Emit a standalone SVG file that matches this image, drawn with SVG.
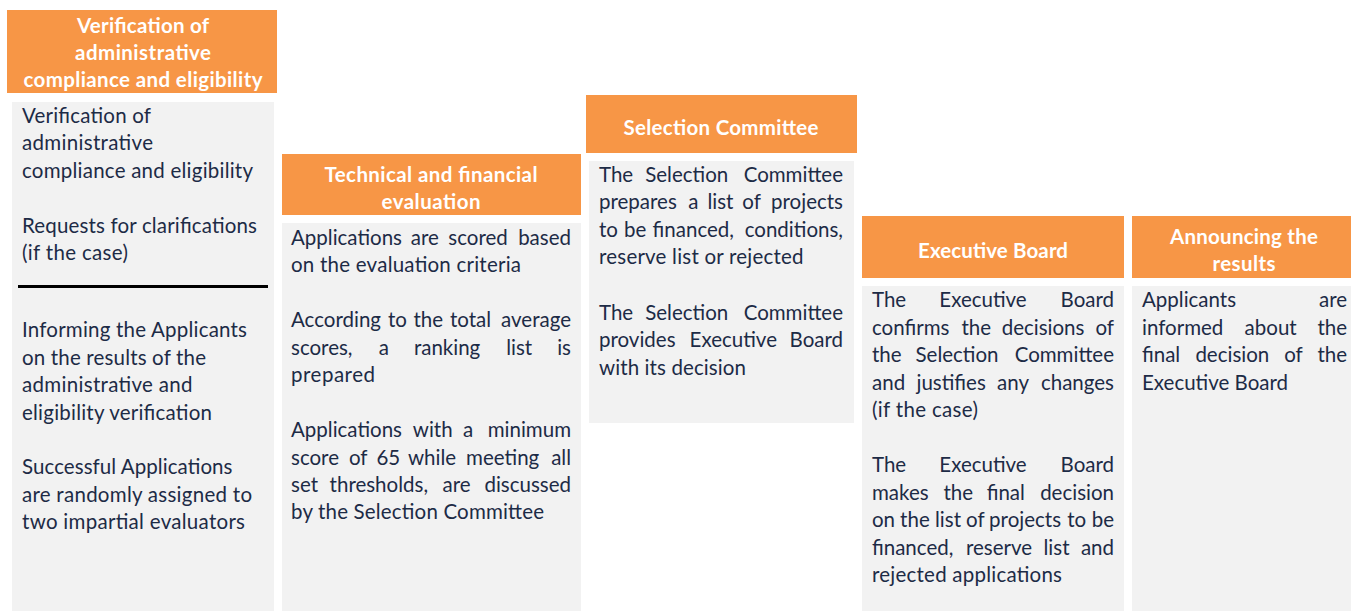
<svg xmlns="http://www.w3.org/2000/svg" width="1351" height="611" viewBox="0 0 1351 611">
<style>
.hd{fill:#F79646}
.bx{fill:#F2F2F2}
.h{font-family:Lato,"Open Sans",sans-serif;font-weight:bold;font-size:20.5px;fill:#FFFFFF;text-anchor:middle}
.t{font-family:Lato,"Open Sans",sans-serif;font-size:20.5px;fill:#1d2b46}
.e{text-anchor:end}
</style>
<rect width="1351" height="611" fill="#FFFFFF"/>
<g id="connectors"></g>

<g id="node-verification">
<rect class="hd" x="7" y="10" width="270" height="83"/>
<text class="h" x="143" y="33" textLength="132">Verification of</text>
<text class="h" x="143" y="60" textLength="136">administrative</text>
<text class="h" x="143" y="87" textLength="239">compliance and eligibility</text>
<rect class="bx" x="12" y="102" width="262" height="509"/>
<text class="t" x="22" y="123" textLength="129">Verification of</text>
<text class="t" x="22" y="150" textLength="131">administrative</text>
<text class="t" x="22" y="178" textLength="231">compliance and eligibility</text>
<text class="t" x="22" y="233" textLength="235">Requests for clarifications</text>
<text class="t" x="22" y="260" textLength="106">(if the case)</text>
<line x1="18" y1="286.5" x2="268" y2="286.5" stroke="#000000" stroke-width="3"/>
<text class="t" x="22" y="337" textLength="225">Informing the Applicants</text>
<text class="t" x="22" y="365" textLength="184">on the results of the</text>
<text class="t" x="22" y="392" textLength="170.5">administrative and</text>
<text class="t" x="22" y="420" textLength="190">eligibility verification</text>
<text class="t" x="22" y="474" textLength="210.5">Successful Applications</text>
<text class="t" x="22" y="502" textLength="230">are randomly assigned to</text>
<text class="t" x="22" y="529" textLength="223">two impartial evaluators</text>
</g>

<g id="node-technical">
<rect class="hd" x="282" y="154" width="299" height="61"/>
<text class="h" x="431" y="182" textLength="213">Technical and financial</text>
<text class="h" x="431" y="209" textLength="99">evaluation</text>
<rect class="bx" x="282" y="223" width="299" height="388"/>
<text class="t" y="245"><tspan x="291">Applications</tspan><tspan x="410.8">are</tspan><tspan x="448.3">scored</tspan></text>
<text class="t e" x="571" y="245">based</text>
<text class="t" x="291" y="272" textLength="230">on the evaluation criteria</text>
<text class="t" y="327"><tspan x="291">According</tspan><tspan x="387.9">to</tspan><tspan x="413.4">the</tspan><tspan x="450">total</tspan></text>
<text class="t e" x="571" y="327">average</text>
<text class="t" y="355"><tspan x="291">scores,</tspan><tspan x="378.8">a</tspan><tspan x="413.9">ranking</tspan><tspan x="506.2">list</tspan></text>
<text class="t e" x="571" y="355">is</text>
<text class="t" x="291" y="382" textLength="84">prepared</text>
<text class="t" y="437"><tspan x="291">Applications</tspan><tspan x="412.8">with</tspan><tspan x="463">a</tspan></text>
<text class="t e" x="571" y="437">minimum</text>
<text class="t" y="465"><tspan x="291">score</tspan><tspan x="348.9">of</tspan><tspan x="376.4">65</tspan><tspan x="408">while</tspan><tspan x="466.1">meeting</tspan></text>
<text class="t e" x="571" y="465">all</text>
<text class="t" y="492"><tspan x="291">set</tspan><tspan x="329.6">thresholds,</tspan><tspan x="442.6">are</tspan></text>
<text class="t e" x="571" y="492">discussed</text>
<text class="t" x="291" y="519" textLength="253">by the Selection Committee</text>
</g>

<g id="node-selection">
<rect class="hd" x="586" y="95" width="271" height="58"/>
<text class="h" x="721" y="135" textLength="195">Selection Committee</text>
<rect class="bx" x="589" y="161" width="265" height="262"/>
<text class="t" y="182"><tspan x="599">The</tspan><tspan x="645.2">Selection</tspan></text>
<text class="t e" x="843" y="182">Committee</text>
<text class="t" y="209"><tspan x="599">prepares</tspan><tspan x="688.3">a</tspan><tspan x="707.4">list</tspan><tspan x="742.3">of</tspan></text>
<text class="t e" x="843" y="209">projects</text>
<text class="t" y="237"><tspan x="599">to</tspan><tspan x="624">be</tspan><tspan x="652.6">financed,</tspan></text>
<text class="t e" x="843" y="237">conditions,</text>
<text class="t" x="599" y="264" textLength="204.5">reserve list or rejected</text>
<text class="t" y="320"><tspan x="599">The</tspan><tspan x="645.2">Selection</tspan></text>
<text class="t e" x="843" y="320">Committee</text>
<text class="t" y="347"><tspan x="599">provides</tspan><tspan x="689.6">Executive</tspan></text>
<text class="t e" x="843" y="347">Board</text>
<text class="t" x="599" y="375" textLength="147">with its decision</text>
</g>

<g id="node-executive">
<rect class="hd" x="862" y="216" width="262" height="62"/>
<text class="h" x="993" y="258" textLength="150">Executive Board</text>
<rect class="bx" x="862" y="286" width="262" height="325"/>
<text class="t" y="307"><tspan x="872">The</tspan><tspan x="939.3">Executive</tspan></text>
<text class="t e" x="1114" y="307">Board</text>
<text class="t" y="335"><tspan x="872">confirms</tspan><tspan x="961.4">the</tspan><tspan x="1001.7">decisions</tspan></text>
<text class="t e" x="1114" y="335">of</text>
<text class="t" y="362"><tspan x="872">the</tspan><tspan x="915.5">Selection</tspan></text>
<text class="t e" x="1114" y="362">Committee</text>
<text class="t" y="390"><tspan x="872">and</tspan><tspan x="916.5">justifies</tspan><tspan x="997.1">any</tspan></text>
<text class="t e" x="1114" y="390">changes</text>
<text class="t" x="872" y="417" textLength="106">(if the case)</text>
<text class="t" y="472"><tspan x="872">The</tspan><tspan x="939.3">Executive</tspan></text>
<text class="t e" x="1114" y="472">Board</text>
<text class="t" y="500"><tspan x="872">makes</tspan><tspan x="943.5">the</tspan><tspan x="986.7">final</tspan></text>
<text class="t e" x="1114" y="500">decision</text>
<text class="t" y="527"><tspan x="872">on</tspan><tspan x="900.1">the</tspan><tspan x="935">list</tspan><tspan x="966">of</tspan><tspan x="989.1">projects</tspan><tspan x="1067.2">to</tspan></text>
<text class="t e" x="1114" y="527">be</text>
<text class="t" y="555"><tspan x="872">financed,</tspan><tspan x="965.9">reserve</tspan><tspan x="1043.5">list</tspan></text>
<text class="t e" x="1114" y="555">and</text>
<text class="t" x="872" y="582" textLength="190">rejected applications</text>
</g>

<g id="node-announcing">
<rect class="hd" x="1132" y="216" width="219" height="62"/>
<text class="h" x="1244" y="244" textLength="148">Announcing the</text>
<text class="h" x="1244" y="271" textLength="63">results</text>
<rect class="bx" x="1132" y="286" width="219" height="325"/>
<text class="t" x="1142" y="307">Applicants</text>
<text class="t e" x="1347" y="307">are</text>
<text class="t" y="335"><tspan x="1142">informed</tspan><tspan x="1244.6">about</tspan></text>
<text class="t e" x="1347" y="335">the</text>
<text class="t" y="362"><tspan x="1142">final</tspan><tspan x="1195.4">decision</tspan><tspan x="1284.2">of</tspan></text>
<text class="t e" x="1347" y="362">the</text>
<text class="t" x="1142" y="390" textLength="146">Executive Board</text>
</g>
</svg>
